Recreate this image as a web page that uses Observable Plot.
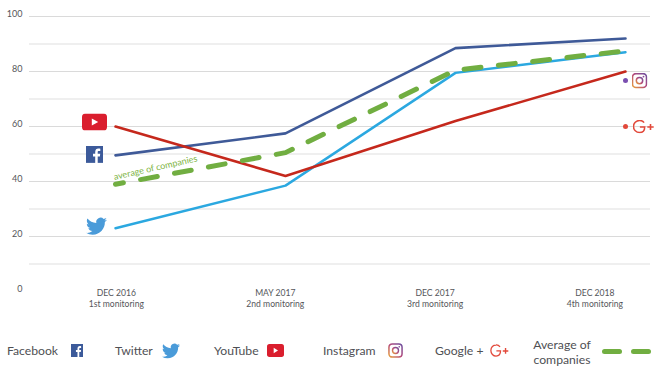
<!DOCTYPE html>
<html>
<head>
<meta charset="utf-8">
<script src="https://cdn.jsdelivr.net/npm/d3@7"></script>
<script src="https://cdn.jsdelivr.net/npm/@observablehq/plot@0.6"></script>
<style>
html,body{margin:0;padding:0;background:#fff;}
#root{position:relative;width:664px;height:376px;overflow:hidden;font-family:Lato,sans-serif;color:#4f5054;}
#root svg{display:block;}
.lg{position:absolute;font-size:12.2px;line-height:15px;white-space:nowrap;}
.ic{position:absolute;}
</style>
</head>
<body>
<div id="root"></div>
<script>
const monitoringIndex = [0, 1, 2, 3];
const facebook = [49.5, 57.5, 88.5, 92];
const twitter = [23, 38.5, 79.5, 87];
const youtube = [60, 42, 62, 80];
const average = [39, 50.5, 80.5, 87.5];
const instagramPoint = 76.7;
const googlePoint = 60;
const dates = ["DEC 2016", "MAY 2017", "DEC 2017", "DEC 2018"];
const rounds = ["1st monitoring", "2nd monitoring", "3rd monitoring", "4th monitoring"];
const labelPositions = [0.005, 0.94, 1.88, 2.82];
const majorTicks = [20, 40, 60, 80, 100];
const minorTicks = [10, 30, 50, 70, 90];
const axisTicks = [0, 20, 40, 60, 80, 100];

const uri = s => "data:image/svg+xml;utf8," + encodeURIComponent(s);
const svgWrap = (vb, inner) => `<svg xmlns="http://www.w3.org/2000/svg" viewBox="${vb}">${inner}</svg>`;
const ytSvg = svgWrap("0 0 25 17", `<rect width="25" height="17" rx="3.6" fill="#da1e2e"/><path d="M9.8 5l6.4 3.5-6.4 3.5z" fill="#fff"/>`);
const fbSvg = svgWrap("0 0 17 17", `<rect width="17" height="17" fill="#3c5a9a"/><path d="M11.7 17v-6.5h2.2l.3-2.6h-2.5V6.3c0-.7.2-1.2 1.3-1.2h1.3V2.8c-.3 0-1-.1-1.9-.1-1.9 0-3.2 1.2-3.2 3.3v1.9H7v2.6h2.2V17z" fill="#fff"/>`);
const twSvg = svgWrap("0 0 24 24", `<path fill="#4a9bd9" d="M23.95 4.57a10 10 0 01-2.82.77 4.96 4.96 0 002.16-2.72c-.95.55-2 .95-3.13 1.18a4.92 4.92 0 00-8.38 4.48C7.69 8.09 4.07 6.13 1.64 3.16a4.82 4.82 0 00-.67 2.48c0 1.71.87 3.21 2.19 4.1a4.9 4.9 0 01-2.23-.61v.06a4.92 4.92 0 003.95 4.83 5 5 0 01-2.21.08 4.94 4.94 0 004.6 3.42A9.87 9.87 0 010 19.54a13.94 13.94 0 007.55 2.21c9.06 0 14-7.5 14-13.98 0-.21 0-.42-.02-.63a9.94 9.94 0 002.46-2.55z"/>`);
const igSvg = svgWrap("0 0 16 16", `<defs><linearGradient id="g" x1="0" y1="1" x2="1" y2="0"><stop offset="0" stop-color="#e8a13c"/><stop offset=".5" stop-color="#b4487a"/><stop offset="1" stop-color="#6a4fa0"/></linearGradient></defs><rect x="1" y="1" width="14" height="14" rx="3.5" fill="none" stroke="url(#g)" stroke-width="1.6"/><circle cx="8" cy="8" r="3.2" fill="none" stroke="url(#g)" stroke-width="1.5"/><circle cx="12" cy="4" r=".9" fill="#8a4b96"/>`);
const gpSvg = svgWrap("0 0 22 14", `<path d="M11.6 3.1A5.4 5.4 0 0 0 7 1 6 6 0 0 0 7 13c3.3 0 5.2-2.2 5.2-5.6H7.4" fill="none" stroke="#e2493b" stroke-width="1.5"/><path d="M14.8 7.5h6.4M18 4.4v6.2" fill="none" stroke="#e2493b" stroke-width="1.6"/>`);

const pts = arr => arr.map((v, i) => ({x: monitoringIndex[i], y: v}));
const lineOpts = (color, w) => ({x: "x", y: "y", stroke: color, strokeWidth: w, curve: "linear"});
const icon = (i, v, svg, w, h, dx, dy) => Plot.image([{x: i, y: v}], {x: "x", y: "y", src: () => uri(svg), width: w, height: h, dx, dy, preserveAspectRatio: "none"});

const plot = Plot.plot({
  width: 664, height: 316,
  marginLeft: 29, marginRight: 14, marginTop: 0, marginBottom: 0,
  style: {fontFamily: 'Lato,sans-serif', background: "#fff", color: "#4f5054"},
  x: {type: "linear", domain: [0, 3], range: [115, 625], axis: null},
  y: {domain: [0, 100], range: [291, 16], axis: null},
  marks: [
    Plot.ruleY(minorTicks, {stroke: "#efefef", strokeWidth: 2}),
    Plot.ruleY(majorTicks, {stroke: "#dadada", strokeWidth: 1}),
    Plot.axisY(axisTicks, {anchor: "left", tickSize: 0, tickPadding: 7, fontSize: 9, fill: "#55565a", label: null, dy: -2.5}),
    Plot.line(pts(twitter), lineOpts("#2ba8e0", 2.4)),
    Plot.line(pts(facebook), lineOpts("#3f5a98", 2.6)),
    Plot.line(pts(youtube), lineOpts("#c5281c", 2.5)),
    Plot.line(pts(average), {...lineOpts("#71ae41", 5), strokeDasharray: "17 17.5", strokeDashoffset: 9, strokeLinecap: "round"}),
    Plot.dot([{x: 3, y: instagramPoint}], {x: "x", y: "y", r: 2.5, fill: "#7a4fb0"}),
    Plot.dot([{x: 3, y: googlePoint}], {x: "x", y: "y", r: 2.5, fill: "#e2493b"}),
    icon(0, youtube[0], ytSvg, 25, 17, -21, -4.5),
    icon(0, facebook[0], fbSvg, 17, 17, -21, -1),
    icon(0, twitter[0], twSvg, 21, 21, -19, -2),
    icon(3, instagramPoint, igSvg, 16, 16, 14, 0),
    icon(3, googlePoint, gpSvg, 22, 14, 18, 0),
    Plot.text(["average of companies"], {x: [0.235], y: [45], text: d => d, rotate: -12.6, fontSize: 9, fill: "#7cb342"}),
    Plot.text(dates, {x: labelPositions, y: labelPositions.map(() => 0), text: d => d, fontSize: 8.6, fill: "#55565a", dy: 2}),
    Plot.text(rounds, {x: labelPositions, y: labelPositions.map(() => 0), text: d => d, fontSize: 8.6, fill: "#55565a", dy: 13})
  ]
});
const root = document.getElementById("root");
root.appendChild(plot);

const legendNames = ["Facebook", "Twitter", "YouTube", "Instagram", "Google +"];
const legendTextX = [7, 115, 214, 323, 435];
const legendIcons = [[fbSvg, 71, 344, 12, 13], [twSvg, 162, 342, 18, 18], [ytSvg, 267, 344, 17, 13], [igSvg, 388, 343, 15, 15], [gpSvg, 490, 344, 19, 13]];
legendNames.forEach((n, i) => {
  const d = document.createElement("div");
  d.className = "lg"; d.textContent = n;
  d.style.left = legendTextX[i] + "px"; d.style.top = "343px";
  root.appendChild(d);
});
legendIcons.forEach(([s, x, y, w, h]) => {
  const d = document.createElement("img");
  d.className = "ic"; d.src = uri(s.replace("<svg ", '<svg preserveAspectRatio="none" '));
  d.style.cssText = `left:${x}px;top:${y}px;width:${w}px;height:${h}px`;
  root.appendChild(d);
});
const avg = document.createElement("div");
avg.className = "lg";
avg.innerHTML = "Average of<br>companies";
avg.style.cssText = "left:522px;width:80px;top:337px;text-align:center";
root.appendChild(avg);
[602, 631].forEach(x => {
  const d = document.createElement("div");
  d.style.cssText = `position:absolute;left:${x}px;top:348.5px;width:20px;height:5px;border-radius:3px;background:#71ae41`;
  root.appendChild(d);
});
</script>
</body>
</html>
